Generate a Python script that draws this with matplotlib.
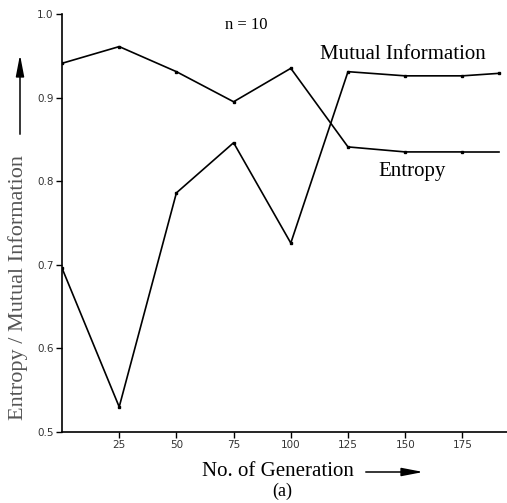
import matplotlib.pyplot as plt
from matplotlib.patches import FancyArrowPatch

generations = [0, 25, 50, 75, 100, 125, 150, 175, 191]
entropy = [0.941, 0.961, 0.931, 0.895, 0.935, 0.841, 0.835, 0.835, 0.835]
mutual_info = [0.696, 0.530, 0.786, 0.846, 0.726, 0.931, 0.926, 0.926, 0.929]
xticks = [25, 50, 75, 100, 125, 150, 175]
yticks = [0.5, 0.6, 0.7, 0.8, 0.9, 1.0]

serif = ['Liberation Serif', 'DejaVu Serif']
narrow = ['Liberation Sans Narrow', 'DejaVu Sans']

fig = plt.figure(figsize=(5.07, 5.03), dpi=100)
ax = fig.add_axes([0.1223, 0.1412, 0.8777, 0.831])

ax.plot(generations[:-1], entropy[:-1], color='black', lw=1.2, marker='s', ms=2)
ax.plot(generations[-2:], entropy[-2:], color='black', lw=1.2)
ax.plot(generations, mutual_info, color='black', lw=1.2, marker='s', ms=2)

ax.set_xlim(0, 194.5)
ax.set_ylim(0.5, 1.0)
ax.set_xticks(xticks)
ax.set_yticks(yticks)
ax.set_xticklabels([str(t) for t in xticks], family=narrow, fontsize=7.5, color='#333333')
ax.set_yticklabels([f'{t:.1f}' for t in yticks], family=narrow, fontsize=7.5, color='#333333')
ax.tick_params(direction='out', length=4, width=1, pad=2)
for s in ['top', 'right']:
    ax.spines[s].set_visible(False)
for s in ['left', 'bottom']:
    ax.spines[s].set_linewidth(1.2)

ax.text(80.4, 0.987, 'n = 10', family=serif, fontsize=12, ha='center', va='center')
ax.text(149, 0.952, 'Mutual Information', family=serif, fontsize=15, ha='center', va='center')
ax.text(153, 0.812, 'Entropy', family=serif, fontsize=15, ha='center', va='center')

fig.text(18 / 507, 1 - 288 / 503, 'Entropy / Mutual Information', family=serif, fontsize=16,
         color='#555555', rotation=90, ha='center', va='center')
fig.text(277.5 / 507, 1 - 471 / 503, 'No. of Generation', family=serif, fontsize=15,
         ha='center', va='center')
fig.text(282 / 507, 1 - 491 / 503, '(a)', family=serif, fontsize=13, ha='center', va='center')

arrow = dict(arrowstyle='-|>,head_length=1.3,head_width=0.25', color='black', lw=1.1,
             mutation_scale=10, transform=fig.transFigure)
fig.add_artist(FancyArrowPatch((20 / 507, 1 - 137 / 503), (20 / 507, 1 - 52 / 503), **arrow))
fig.add_artist(FancyArrowPatch((363 / 507, 1 - 472 / 503), (426 / 507, 1 - 472 / 503), **arrow))

fig.savefig('out.png', dpi=100)
